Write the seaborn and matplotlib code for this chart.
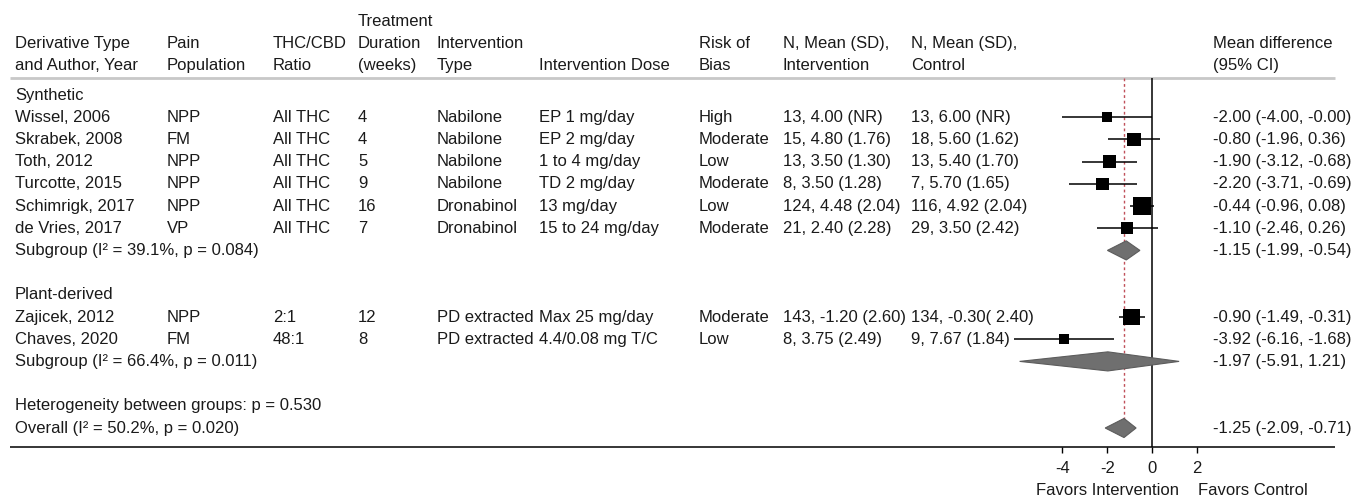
import numpy as np
import pandas as pd
import matplotlib
matplotlib.use("Agg")
import matplotlib.pyplot as plt
import seaborn as sns

# Study-level data
authors = ["Wissel, 2006", "Skrabek, 2008", "Toth, 2012", "Turcotte, 2015",
           "Schimrigk, 2017", "de Vries, 2017", "Zajicek, 2012", "Chaves, 2020"]
population = ["NPP", "FM", "NPP", "NPP", "NPP", "VP", "NPP", "FM"]
ratio = ["All THC", "All THC", "All THC", "All THC", "All THC", "All THC", "2:1", "48:1"]
duration = ["4", "4", "5", "9", "16", "7", "12", "8"]
int_type = ["Nabilone", "Nabilone", "Nabilone", "Nabilone", "Dronabinol", "Dronabinol",
            "PD extracted", "PD extracted"]
dose = ["EP 1 mg/day", "EP 2 mg/day", "1 to 4 mg/day", "TD 2 mg/day", "13 mg/day",
        "15 to 24 mg/day", "Max 25 mg/day", "4.4/0.08 mg T/C"]
bias = ["High", "Moderate", "Low", "Moderate", "Low", "Moderate", "Moderate", "Low"]
n_int = ["13, 4.00 (NR)", "15, 4.80 (1.76)", "13, 3.50 (1.30)", "8, 3.50 (1.28)",
         "124, 4.48 (2.04)", "21, 2.40 (2.28)", "143, -1.20 (2.60)", "8, 3.75 (2.49)"]
n_ctl = ["13, 6.00 (NR)", "18, 5.60 (1.62)", "13, 5.40 (1.70)", "7, 5.70 (1.65)",
         "116, 4.92 (2.04)", "29, 3.50 (2.42)", "134, -0.30( 2.40)", "9, 7.67 (1.84)"]
md = [-2.00, -0.80, -1.90, -2.20, -0.44, -1.10, -0.90, -3.92]
ci_lo = [-4.00, -1.96, -3.12, -3.71, -0.96, -2.46, -1.49, -6.16]
ci_hi = [-0.0, 0.36, -0.68, -0.69, 0.08, 0.26, -0.31, -1.68]
weights = [6.1, 12.5, 11.4, 10.7, 23.7, 9.7, 19.8, 6.1]
study_rows = [1, 2, 3, 4, 5, 6, 10, 11]

# Pooled estimates
sum_labels = ["Subgroup (I\u00b2 = 39.1%, p = 0.084)", "Subgroup (I\u00b2 = 66.4%, p = 0.011)",
              "Overall (I\u00b2 = 50.2%, p = 0.020)"]
sum_md = [-1.15, -1.97, -1.25]
sum_lo = [-1.99, -5.91, -2.09]
sum_hi = [-0.54, 1.21, -0.71]
sum_rows = [7, 12, 15]

group_labels = ["Synthetic", "Plant-derived", "Heterogeneity between groups: p = 0.530"]
group_rows = [0, 9, 14]

headers = [["", "Derivative Type", "and Author, Year"],
           ["", "Pain", "Population"],
           ["", "THC/CBD", "Ratio"],
           ["Treatment", "Duration", "(weeks)"],
           ["", "Intervention", "Type"],
           ["", "", "Intervention Dose"],
           ["", "Risk of", "Bias"],
           ["", "N, Mean (SD),", "Intervention"],
           ["", "N, Mean (SD),", "Control"],
           ["", "Mean difference", "(95% CI)"]]
xticks = [-4, -2, 0, 2]

sns.set_theme(style="white")
plt.rcParams['font.family'] = ['Liberation Sans', 'DejaVu Sans']
FS = 12
TXT = "#1a1a1a"

W, H = 1356, 498
fig = plt.figure(figsize=(W / 100, H / 100), dpi=100)

# layout in pixels
row0, drow = 95.0, 22.2
col_x = [15, 167, 273, 358, 437, 539, 699, 783, 911, 1213]
zero_px, unit_px = 1152.0, 22.4
top_px, base_px = 78.0, 447.0
fx0, fx1 = 1000.0, 1335.0

def ry(r):
    return row0 + drow * r

tab = fig.add_axes([0, 0, 1, 1])
tab.set_xlim(0, W)
tab.set_ylim(H, 0)
tab.axis("off")

# header
for x, lines in zip(col_x, headers):
    for i, t in enumerate(lines):
        if t:
            tab.text(x, 21 + 22 * i, t, fontsize=FS, color=TXT, va="center", ha="left")
tab.plot([10, fx1], [top_px, top_px], color="#c8c8c8", lw=2, solid_capstyle="butt")
tab.plot([10, fx1], [base_px, base_px], color="black", lw=1.1, solid_capstyle="butt")

# table body
cols = [authors, population, ratio, duration, int_type, dose, bias, n_int, n_ctl]
for x, vals in zip(col_x, cols):
    for r, v in zip(study_rows, vals):
        tab.text(x, ry(r), v, fontsize=FS, color=TXT, va="center", ha="left")
for r, m, l, h in zip(study_rows, md, ci_lo, ci_hi):
    tab.text(col_x[-1], ry(r), f"{m:.2f} ({l:.2f}, {h:.2f})", fontsize=FS, color=TXT, va="center")
for r, lab, m, l, h in zip(sum_rows, sum_labels, sum_md, sum_lo, sum_hi):
    tab.text(col_x[0], ry(r), lab, fontsize=FS, color=TXT, va="center")
    tab.text(col_x[-1], ry(r), f"{m:.2f} ({l:.2f}, {h:.2f})", fontsize=FS, color=TXT, va="center")
for r, lab in zip(group_rows, group_labels):
    tab.text(col_x[0], ry(r), lab, fontsize=FS, color=TXT, va="center")

tab.text(1107, 490, "Favors Intervention", fontsize=FS, color=TXT, ha="center", va="center")
tab.text(1253, 490, "Favors Control", fontsize=FS, color=TXT, ha="center", va="center")

# forest axes
fx = fig.add_axes([fx0 / W, (H - base_px) / H, (fx1 - fx0) / W, (base_px - top_px) / H])
fx.set_xlim((fx0 - zero_px) / unit_px, (fx1 - zero_px) / unit_px)
fx.set_ylim((base_px - row0) / drow, (top_px - row0) / drow)
fx.patch.set_alpha(0)
for s in fx.spines.values():
    s.set_visible(False)
fx.set_yticks([])
fx.set_xticks(xticks)
fx.set_xticklabels([str(t) for t in xticks])
fx.tick_params(axis="x", bottom=True, direction="out", length=4, width=1, pad=6,
               labelsize=FS, colors="black", labelcolor=TXT)

fx.axvline(0, color="black", lw=1.1)
fx.plot([sum_md[2], sum_md[2]], [fx.get_ylim()[1], sum_rows[2] + 0.45],
        color="#c0505a", lw=1, dashes=(2, 2))

fx.hlines(study_rows, ci_lo, ci_hi, color="black", lw=1.1)
df = pd.DataFrame({"md": md, "row": study_rows, "w": weights})
k = 2.75  # marker side in points per sqrt(weight)
sns.scatterplot(data=df, x="md", y="row", size="w", size_norm=(0, 100),
                sizes=(0, k * k * 100), marker="s", color="black", edgecolor="black",
                linewidth=0, legend=False, ax=fx, zorder=3)
fx.set_xlabel("")
fx.set_ylabel("")

hh = 0.43
for r, m, l, h in zip(sum_rows, sum_md, sum_lo, sum_hi):
    fx.fill([l, m, h, m], [r, r - hh, r, r + hh], facecolor="#6f6f6f",
            edgecolor="#5c5c5c", lw=0.8, zorder=4)

fig.savefig("out.png", dpi=100)
